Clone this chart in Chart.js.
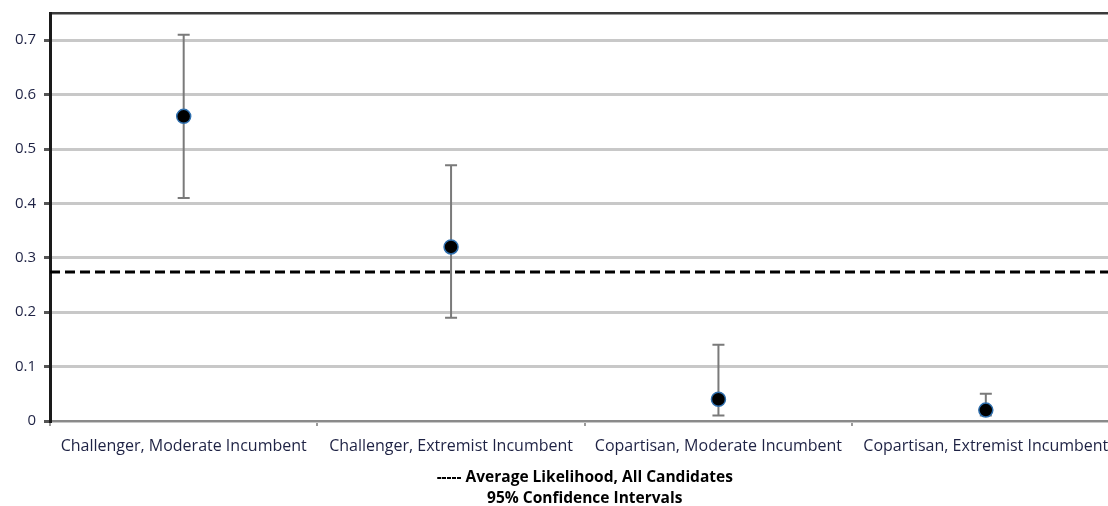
<!DOCTYPE html>
<html>
<head>
<meta charset="utf-8">
<script src="https://cdn.jsdelivr.net/npm/chart.js@4"></script>
<style>
  html, body { margin: 0; padding: 0; background: #fff; overflow: hidden; }
  #wrap { width: 1128px; height: 509px; }
</style>
</head>
<body>
<div id="wrap"><canvas id="chart" width="1128" height="509"></canvas></div>
<script>
  // values
  const categories = ['Challenger, Moderate Incumbent', 'Challenger, Extremist Incumbent',
                      'Copartisan, Moderate Incumbent', 'Copartisan, Extremist Incumbent'];
  const likelihood = [0.56, 0.32, 0.04, 0.02];
  const ciLow  = [0.41, 0.19, 0.01, 0.01];
  const ciHigh = [0.71, 0.47, 0.14, 0.05];
  const average = 0.274;
  const yTicks = [0, 0.1, 0.2, 0.3, 0.4, 0.5, 0.6, 0.7];
  const axisTitle = ['----- Average Likelihood, All Candidates', '95% Confidence Intervals'];

  // draws the dashed average line and the confidence whiskers from the scales
  const extras = {
    id: 'extras',
    beforeDatasetsDraw(chart) {
      const { ctx, chartArea: a, scales: { x, y } } = chart;
      ctx.save();
      ctx.strokeStyle = '#7a7a7a';
      ctx.lineWidth = 2;
      categories.forEach((_, i) => {
        const px = x.getPixelForValue(i), lo = y.getPixelForValue(ciLow[i]), hi = y.getPixelForValue(ciHigh[i]);
        ctx.beginPath();
        ctx.moveTo(px, lo); ctx.lineTo(px, hi);
        ctx.moveTo(px - 6, lo); ctx.lineTo(px + 6, lo);
        ctx.moveTo(px - 6, hi); ctx.lineTo(px + 6, hi);
        ctx.stroke();
      });
      const py = y.getPixelForValue(average);
      ctx.strokeStyle = '#000';
      ctx.lineWidth = 3;
      ctx.setLineDash([10, 5]);
      ctx.beginPath();
      ctx.moveTo(a.left, py); ctx.lineTo(a.right, py);
      ctx.stroke();
      ctx.restore();
    }
  };

  new Chart(document.getElementById('chart'), {
    type: 'line',
    data: {
      labels: categories,
      datasets: [{
        data: likelihood,
        showLine: false,
        pointRadius: 7,
        pointBackgroundColor: '#000',
        pointBorderColor: '#2f6fae',
        pointBorderWidth: 1.5
      }]
    },
    options: {
      responsive: false,
      animation: false,
      layout: { padding: { top: 13, right: 0, left: 0, bottom: 0 } },
      plugins: { legend: { display: false }, tooltip: { enabled: false } },
      scales: {
        x: {
          offset: true,
          grid: { display: true, drawOnChartArea: false, offset: true, color: '#9a9a9a', tickLength: 5, lineWidth: 2 },
          border: { color: '#8a8a8a', width: 2 },
          ticks: { color: '#1e2244', font: { family: 'Open Sans', size: 16 }, maxRotation: 0, autoSkip: false, padding: 11 },
          title: {
            display: true, text: axisTitle, color: '#000',
            font: { family: 'Open Sans', size: 15.5, weight: 'bold', lineHeight: 1.35 },
            padding: { top: 6, bottom: 0 }
          },
          afterFit: s => { s.height = 88; }
        },
        y: {
          min: 0, max: 0.75,
          afterBuildTicks: s => { s.ticks = yTicks.map(v => ({ value: v })).concat([{ value: 0.75 }]); },
          grid: {
            color: c => c.tick && c.tick.value === 0.75 ? '#3a3a3a' : '#c8c8c8',
            lineWidth: c => c.tick && c.tick.value === 0.75 ? 2.5 : 3,
            tickColor: c => c.tick && c.tick.value === 0.75 ? 'rgba(0,0,0,0)' : '#555',
            tickLength: 6
          },
          border: { color: '#1a1a1a', width: 3 },
          ticks: {
            color: '#1e2244', font: { family: 'Open Sans', size: 15 }, padding: 8,
            callback: v => v === 0.75 ? '' : (v === 0 ? '0' : v.toFixed(1))
          },
          afterFit: s => { s.width = 50; s.paddingTop = 0; s.paddingBottom = 0; }
        }
      }
    },
    plugins: [extras]
  });
</script>
</body>
</html>
